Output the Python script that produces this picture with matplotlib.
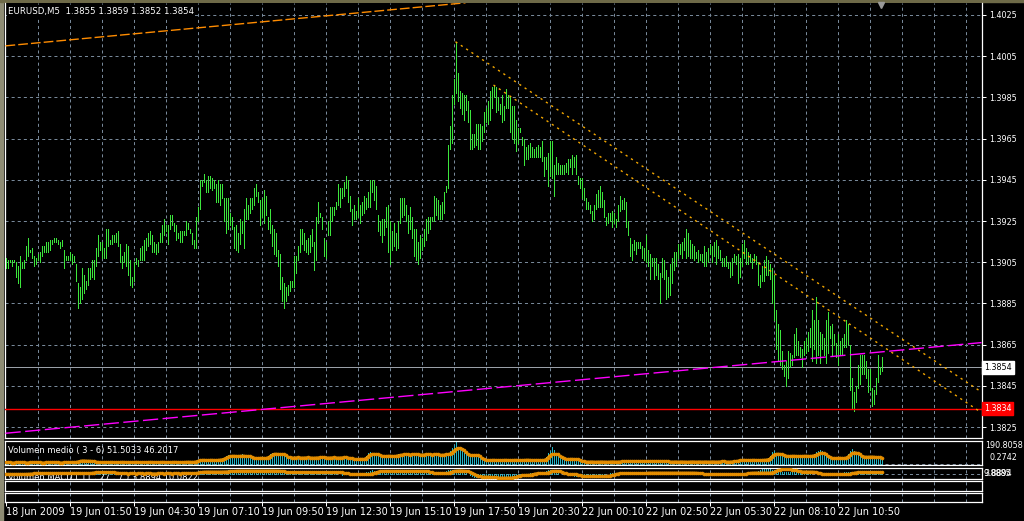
import matplotlib
matplotlib.use("Agg")
import numpy as np
import matplotlib.pyplot as plt
import matplotlib.transforms as mtransforms
from matplotlib.patches import Rectangle

# ---------------- data (EURUSD M5, one entry per bar) ----------------
bar_high = [
    1.3907, 1.3906, 1.3906, 1.3906, 1.3906, 1.3905, 1.3903, 1.3908, 1.3905, 1.3906,
    1.3913, 1.3917, 1.3911, 1.3912, 1.3908, 1.3907, 1.3909, 1.3910, 1.3913, 1.3913,
    1.3915, 1.3915, 1.3916, 1.3916, 1.3917, 1.3917, 1.3916, 1.3915, 1.3916, 1.3911,
    1.3908, 1.3908, 1.3910, 1.3909, 1.3908, 1.3904, 1.3895, 1.3893, 1.3902, 1.3899,
    1.3896, 1.3902, 1.3902, 1.3906, 1.3906, 1.3912, 1.3918, 1.3915, 1.3915, 1.3912,
    1.3921, 1.3921, 1.3916, 1.3918, 1.3918, 1.3919, 1.3920, 1.3914, 1.3908, 1.3910,
    1.3914, 1.3913, 1.3906, 1.3898, 1.3905, 1.3907, 1.3906, 1.3912, 1.3913, 1.3916,
    1.3917, 1.3919, 1.3920, 1.3918, 1.3915, 1.3914, 1.3915, 1.3919, 1.3923, 1.3926,
    1.3923, 1.3923, 1.3928, 1.3928, 1.3924, 1.3923, 1.3919, 1.3920, 1.3920, 1.3920,
    1.3925, 1.3924, 1.3921, 1.3919, 1.3916, 1.3927, 1.3932, 1.3945, 1.3945, 1.3948,
    1.3945, 1.3947, 1.3947, 1.3946, 1.3945, 1.3943, 1.3945, 1.3943,
    1.3943, 1.3936, 1.3936, 1.3936, 1.3929, 1.3927, 1.3922, 1.3923, 1.3919, 1.3926,
    1.3925, 1.3931, 1.3936, 1.3933, 1.3936, 1.3936, 1.3941, 1.3943, 1.3939, 1.3935,
    1.3936, 1.3940, 1.3937, 1.3927, 1.3931, 1.3923, 1.3921, 1.3919, 1.3911, 1.3909,
    1.3898, 1.3895, 1.3893, 1.3894, 1.3896, 1.3896, 1.3908, 1.3908, 1.3913, 1.3921,
    1.3921, 1.3919, 1.3916, 1.3917, 1.3918, 1.3921, 1.3915, 1.3927, 1.3934, 1.3929,
    1.3927, 1.3917, 1.3915, 1.3925, 1.3932, 1.3932, 1.3932, 1.3934, 1.3943, 1.3941,
    1.3941, 1.3944, 1.3947, 1.3945, 1.3937, 1.3931, 1.3933, 1.3930, 1.3936, 1.3933,
    1.3934, 1.3937, 1.3936, 1.3939, 1.3945, 1.3945, 1.3945, 1.3942, 1.3928, 1.3925,
    1.3926, 1.3926, 1.3932, 1.3933, 1.3925, 1.3920, 1.3924, 1.3919, 1.3925, 1.3936,
    1.3936, 1.3936, 1.3933, 1.3928, 1.3932, 1.3927, 1.3921, 1.3921, 1.3915, 1.3918,
    1.3917, 1.3921, 1.3926, 1.3927, 1.3927, 1.3927, 1.3937, 1.3936, 1.3935, 1.3933,
    1.3934, 1.3939, 1.3942,
    1.3962, 1.3971, 1.3986, 1.3994, 1.4012, 1.3997, 1.3988, 1.3987, 1.3986, 1.3986,
    1.3983, 1.3979, 1.3967, 1.3967, 1.3972, 1.3972, 1.3972, 1.3971, 1.3978, 1.3980,
    1.3983, 1.3988, 1.3990, 1.3991, 1.3990, 1.3985, 1.3982, 1.3986, 1.3981, 1.3989,
    1.3986, 1.3985, 1.3981, 1.3981, 1.3974, 1.3970, 1.3970, 1.3966, 1.3965, 1.3961,
    1.3962, 1.3963, 1.3961, 1.3960, 1.3961, 1.3962, 1.3961, 1.3964, 1.3956, 1.3956,
    1.3958, 1.3964, 1.3964, 1.3952, 1.3956, 1.3953, 1.3952, 1.3952, 1.3952, 1.3953,
    1.3955, 1.3955, 1.3957, 1.3956, 1.3957, 1.3947, 1.3946,
    1.3946, 1.3941, 1.3936, 1.3934, 1.3933, 1.3930, 1.3933, 1.3938, 1.3940, 1.3942,
    1.3939, 1.3935, 1.3927, 1.3929, 1.3929, 1.3930, 1.3929, 1.3926, 1.3933, 1.3937,
    1.3935, 1.3936, 1.3934, 1.3925, 1.3917, 1.3914, 1.3916, 1.3915, 1.3915, 1.3915,
    1.3913, 1.3912, 1.3918, 1.3911, 1.3909, 1.3907, 1.3907, 1.3907, 1.3904, 1.3900,
    1.3907, 1.3906, 1.3901, 1.3898, 1.3904, 1.3907, 1.3910, 1.3910, 1.3914, 1.3914,
    1.3915, 1.3917, 1.3921, 1.3919, 1.3916, 1.3914, 1.3913, 1.3910, 1.3911, 1.3909,
    1.3909, 1.3913, 1.3910, 1.3912, 1.3914, 1.3913, 1.3915, 1.3916, 1.3913, 1.3911,
    1.3907, 1.3907, 1.3908, 1.3905, 1.3905, 1.3907, 1.3909, 1.3908, 1.3909, 1.3907,
    1.3914, 1.3916, 1.3912, 1.3910, 1.3909, 1.3907, 1.3909, 1.3908, 1.3905, 1.3899,
    1.3903, 1.3906, 1.3908, 1.3906, 1.3904,
    1.3902, 1.3899, 1.3882, 1.3875, 1.3872, 1.3862, 1.3855, 1.3857, 1.3862, 1.3861,
    1.3860, 1.3870, 1.3873, 1.3867, 1.3864, 1.3863, 1.3867, 1.3868, 1.3871, 1.3873,
    1.3882, 1.3877, 1.3888, 1.3877, 1.3871, 1.3870, 1.3868, 1.3877, 1.3881, 1.3874,
    1.3875, 1.3870, 1.3866, 1.3870, 1.3867, 1.3868, 1.3870, 1.3877, 1.3875, 1.3865,
    1.3849, 1.3842, 1.3845, 1.3855, 1.3860, 1.3860, 1.3860, 1.3857, 1.3853, 1.3853,
    1.3844, 1.3843, 1.3849, 1.3860, 1.3854, 1.3859,
]
bar_low = [
    1.3902, 1.3902, 1.3905, 1.3903, 1.3905, 1.3898, 1.3895, 1.3893, 1.3902, 1.3902,
    1.3906, 1.3908, 1.3910, 1.3907, 1.3903, 1.3904, 1.3906, 1.3905, 1.3908, 1.3910,
    1.3910, 1.3910, 1.3911, 1.3914, 1.3915, 1.3915, 1.3914, 1.3912, 1.3913, 1.3902,
    1.3906, 1.3906, 1.3906, 1.3904, 1.3905, 1.3896, 1.3883, 1.3885, 1.3887, 1.3890,
    1.3892, 1.3894, 1.3897, 1.3898, 1.3897, 1.3903, 1.3908, 1.3911, 1.3907, 1.3907,
    1.3907, 1.3913, 1.3914, 1.3914, 1.3915, 1.3915, 1.3913, 1.3905, 1.3902, 1.3905,
    1.3903, 1.3899, 1.3894, 1.3893, 1.3896, 1.3904, 1.3903, 1.3906, 1.3906, 1.3906,
    1.3911, 1.3913, 1.3914, 1.3910, 1.3910, 1.3909, 1.3910, 1.3915, 1.3915, 1.3918,
    1.3920, 1.3914, 1.3921, 1.3923, 1.3920, 1.3916, 1.3917, 1.3915, 1.3915, 1.3918,
    1.3918, 1.3921, 1.3919, 1.3914, 1.3912, 1.3912, 1.3925, 1.3931, 1.3942, 1.3944,
    1.3939, 1.3939, 1.3941, 1.3940, 1.3941, 1.3934, 1.3934, 1.3933,
    1.3936, 1.3925, 1.3919, 1.3921, 1.3923, 1.3921, 1.3912, 1.3911, 1.3910, 1.3914,
    1.3919, 1.3912, 1.3926, 1.3926, 1.3929, 1.3931, 1.3933, 1.3937, 1.3934, 1.3923,
    1.3927, 1.3924, 1.3928, 1.3921, 1.3919, 1.3913, 1.3909, 1.3908, 1.3903, 1.3892,
    1.3886, 1.3883, 1.3886, 1.3889, 1.3891, 1.3893, 1.3893, 1.3900, 1.3906, 1.3910,
    1.3914, 1.3911, 1.3910, 1.3909, 1.3910, 1.3913, 1.3901, 1.3906, 1.3924, 1.3927,
    1.3921, 1.3908, 1.3907, 1.3918, 1.3918, 1.3925, 1.3928, 1.3931, 1.3933, 1.3932,
    1.3936, 1.3937, 1.3941, 1.3934, 1.3930, 1.3923, 1.3926, 1.3926, 1.3927, 1.3924,
    1.3928, 1.3929, 1.3931, 1.3932, 1.3932, 1.3939, 1.3935, 1.3931, 1.3920, 1.3918,
    1.3915, 1.3918, 1.3922, 1.3910, 1.3904, 1.3911, 1.3913, 1.3911, 1.3912, 1.3924,
    1.3927, 1.3928, 1.3925, 1.3919, 1.3921, 1.3917, 1.3908, 1.3906, 1.3904, 1.3907,
    1.3911, 1.3913, 1.3916, 1.3919, 1.3921, 1.3925, 1.3925, 1.3928, 1.3926, 1.3926,
    1.3926, 1.3929, 1.3939,
    1.3941, 1.3960, 1.3963, 1.3982, 1.3987, 1.3983, 1.3980, 1.3977, 1.3974, 1.3979,
    1.3973, 1.3960, 1.3960, 1.3961, 1.3962, 1.3960, 1.3960, 1.3964, 1.3968, 1.3973,
    1.3972, 1.3974, 1.3980, 1.3985, 1.3978, 1.3979, 1.3977, 1.3973, 1.3974, 1.3980,
    1.3980, 1.3968, 1.3965, 1.3963, 1.3959, 1.3963, 1.3968, 1.3962, 1.3952, 1.3955,
    1.3955, 1.3956, 1.3956, 1.3956, 1.3956, 1.3956, 1.3956, 1.3954, 1.3947, 1.3950,
    1.3942, 1.3947, 1.3946, 1.3937, 1.3948, 1.3948, 1.3948, 1.3948, 1.3948, 1.3949,
    1.3948, 1.3951, 1.3948, 1.3951, 1.3948, 1.3943, 1.3941,
    1.3936, 1.3935, 1.3931, 1.3931, 1.3929, 1.3925, 1.3926, 1.3931, 1.3932, 1.3932,
    1.3932, 1.3927, 1.3923, 1.3924, 1.3925, 1.3922, 1.3924, 1.3922, 1.3925, 1.3930,
    1.3931, 1.3931, 1.3922, 1.3918, 1.3908, 1.3906, 1.3911, 1.3909, 1.3912, 1.3912,
    1.3907, 1.3906, 1.3905, 1.3903, 1.3897, 1.3903, 1.3897, 1.3899, 1.3897, 1.3885,
    1.3898, 1.3897, 1.3887, 1.3888, 1.3889, 1.3895, 1.3901, 1.3903, 1.3907, 1.3909,
    1.3907, 1.3911, 1.3907, 1.3908, 1.3907, 1.3907, 1.3906, 1.3907, 1.3905, 1.3906,
    1.3905, 1.3903, 1.3903, 1.3905, 1.3909, 1.3905, 1.3908, 1.3904, 1.3907, 1.3906,
    1.3903, 1.3903, 1.3903, 1.3902, 1.3898, 1.3899, 1.3905, 1.3904, 1.3895, 1.3898,
    1.3903, 1.3907, 1.3904, 1.3904, 1.3905, 1.3902, 1.3905, 1.3904, 1.3894, 1.3893,
    1.3896, 1.3896, 1.3899, 1.3899, 1.3897,
    1.3885, 1.3877, 1.3863, 1.3857, 1.3855, 1.3853, 1.3850, 1.3845, 1.3849, 1.3854,
    1.3855, 1.3859, 1.3860, 1.3860, 1.3859, 1.3854, 1.3860, 1.3861, 1.3862, 1.3864,
    1.3857, 1.3863, 1.3856, 1.3860, 1.3856, 1.3863, 1.3860, 1.3856, 1.3861, 1.3868,
    1.3860, 1.3865, 1.3859, 1.3855, 1.3860, 1.3860, 1.3864, 1.3864, 1.3865, 1.3843,
    1.3834, 1.3833, 1.3837, 1.3844, 1.3846, 1.3851, 1.3851, 1.3849, 1.3842, 1.3843,
    1.3835, 1.3836, 1.3841, 1.3847, 1.3851, 1.3852,
]

# x axis labels, one every 32 bars
time_labels = ["18 Jun 2009", "19 Jun 01:50", "19 Jun 04:30", "19 Jun 07:10",
               "19 Jun 09:50", "19 Jun 12:30", "19 Jun 15:10", "19 Jun 17:50",
               "19 Jun 20:30", "22 Jun 00:10", "22 Jun 02:50", "22 Jun 05:30",
               "22 Jun 08:10", "22 Jun 10:50"]
price_ticks = [1.4025, 1.4005, 1.3985, 1.3965, 1.3945, 1.3925,
               1.3905, 1.3885, 1.3865, 1.3845, 1.3825]
bid_price = 1.3854
level_price = 1.3834

# trend lines: (bar index, price) anchors
orange_line = ([0, 230], [1.4010, 1.40309])
magenta_line = ([0, 488], [1.3822, 1.3866])
channel_upper = ([225, 488], [1.4012, 1.3842])
channel_lower = ([244, 488], [1.3991, 1.3832])

# volume (teal histogram) and its average (orange)
volume = [
    12, 7, 9, 6, 10, 8, 13, 9, 8, 11, 6, 9, 10, 8, 12, 9,
    8, 11, 7, 9, 10, 8, 12, 9, 8, 11, 10, 7, 9, 8, 13, 12,
    10, 12, 9, 16, 24, 28, 30, 22, 27, 21, 26, 19, 15, 14, 12, 11,
    14, 10, 13, 15, 11, 16, 12, 10, 14, 15, 13, 11, 14, 10, 13, 15,
    12, 16, 13, 11, 14, 10, 15, 12, 16, 13, 11, 14, 10, 15, 16, 12,
    11, 14, 10, 15, 16, 13, 12, 14, 10, 15, 16, 18, 13, 12, 17, 24,
    34, 36, 30, 28, 33, 27, 35, 30, 28, 34, 32, 38, 44, 52, 64, 72,
    70, 62, 75, 58, 70, 66, 82, 64, 60, 72, 55, 48, 44, 52, 46, 55,
    48, 42, 56, 70, 88, 96, 92, 80, 84, 76, 82, 66, 55, 50, 48, 56,
    58, 50, 55, 48, 52, 60, 56, 50, 48, 55, 53, 57, 50, 58, 54, 52,
    50, 55, 58, 49, 56, 50, 47, 55, 60, 52, 54, 48, 38, 36, 40, 42,
    38, 42, 44, 40, 70, 92, 100, 88, 82, 76, 70, 62, 66, 70, 64, 72,
    66, 60, 70, 72, 82, 86, 84, 78, 82, 76, 84, 80, 86, 78, 74, 82,
    76, 84, 80, 78, 86, 74, 82, 84, 76, 72, 80, 86, 90, 95, 110, 140,
    165, 188, 150, 130, 110, 96, 80, 72, 70, 76, 72, 78, 68, 56, 40, 34,
    30, 28, 34, 30, 32, 28, 30, 26, 34, 32, 30, 28, 33, 29, 32, 34,
    30, 28, 32, 34, 30, 36, 32, 28, 30, 34, 30, 28, 32, 36, 58, 90,
    110, 150, 120, 90, 70, 58, 42, 38, 44, 40, 38, 45, 42, 36, 34, 28,
    18, 14, 16, 18, 14, 17, 15, 13, 18, 16, 15, 17, 14, 16, 18, 15,
    19, 15, 17, 20, 22, 24, 19, 21, 18, 20, 22, 19, 21, 23, 18, 20,
    22, 19, 21, 18, 23, 20, 19, 22, 21, 18, 17, 16, 15, 18, 16, 15,
    17, 14, 18, 16, 15, 14, 18, 17, 15, 16, 18, 15, 17, 16, 15, 18,
    15, 18, 16, 17, 15, 18, 20, 17, 16, 15, 18, 19, 22, 26, 30, 34,
    30, 34, 28, 30, 33, 29, 34, 30, 28, 32, 34, 36, 38, 45, 70, 100,
    110, 95, 88, 80, 72, 66, 70, 64, 62, 70, 72, 64, 66, 62, 70, 68,
    72, 64, 66, 74, 82, 100, 115, 120, 108, 90, 70, 55, 48, 46, 52, 44,
    50, 54, 46, 48, 62, 85, 110, 130, 115, 100, 82, 64, 58, 62, 56, 60,
    62, 58, 64, 55, 52, 50, 46,
]
volume_avg = [
    10, 9, 9, 8, 8, 9, 10, 10, 9, 9, 8, 8, 9, 9, 10, 10,
    9, 9, 8, 8, 9, 9, 10, 10, 9, 9, 9, 8, 8, 9, 10, 11,
    11, 10, 10, 12, 16, 21, 25, 26, 25, 24, 24, 23, 20, 17, 14, 13,
    13, 12, 12, 13, 13, 14, 13, 12, 12, 13, 14, 14, 13, 12, 12, 13,
    13, 14, 14, 13, 12, 12, 13, 13, 14, 14, 13, 13, 12, 13, 14, 14,
    13, 12, 12, 13, 14, 14, 13, 13, 12, 13, 14, 15, 15, 14, 14, 16,
    22, 28, 31, 32, 31, 30, 31, 32, 31, 30, 31, 33, 35, 40, 48, 58,
    64, 67, 68, 67, 66, 67, 68, 69, 67, 66, 64, 60, 52, 49, 48, 49,
    50, 49, 48, 52, 62, 75, 84, 86, 85, 84, 83, 80, 72, 62, 56, 53,
    52, 53, 54, 53, 52, 52, 53, 54, 53, 52, 51, 52, 53, 54, 55, 54,
    53, 52, 52, 53, 54, 53, 52, 52, 53, 54, 54, 53, 50, 46, 42, 40,
    39, 40, 41, 40, 44, 60, 78, 84, 85, 84, 80, 74, 68, 67, 66, 67,
    68, 67, 66, 67, 70, 74, 78, 80, 81, 80, 79, 80, 81, 82, 80, 79,
    78, 79, 80, 81, 80, 79, 80, 81, 80, 78, 77, 78, 80, 82, 86, 96,
    112, 128, 135, 137, 133, 120, 100, 86, 78, 75, 74, 75, 73, 66, 52, 40,
    34, 31, 30, 31, 32, 31, 30, 29, 30, 31, 32, 31, 30, 30, 31, 32,
    31, 30, 30, 31, 32, 33, 32, 31, 30, 31, 31, 30, 30, 31, 35, 50,
    70, 82, 85, 84, 80, 70, 55, 45, 41, 40, 40, 41, 40, 39, 38, 33,
    26, 20, 17, 16, 16, 17, 16, 15, 16, 16, 17, 16, 16, 15, 16, 17,
    17, 16, 16, 17, 18, 20, 21, 20, 20, 19, 20, 21, 20, 20, 19, 20,
    20, 21, 20, 20, 21, 20, 20, 21, 20, 20, 19, 18, 17, 16, 16, 17,
    16, 16, 17, 16, 16, 15, 16, 17, 17, 16, 16, 17, 16, 16, 17, 16,
    16, 17, 17, 16, 16, 17, 18, 18, 17, 16, 16, 17, 18, 20, 24, 28,
    31, 32, 31, 30, 30, 31, 32, 31, 30, 30, 31, 32, 33, 35, 42, 60,
    78, 84, 86, 85, 82, 76, 70, 67, 66, 67, 68, 67, 66, 65, 66, 67,
    68, 67, 66, 67, 70, 76, 84, 92, 95, 93, 82, 66, 55, 50, 49, 48,
    49, 50, 49, 48, 50, 58, 75, 90, 96, 97, 92, 80, 66, 61, 60, 59,
    60, 61, 60, 58, 56, 54, 52,
]

# volume MACD: histogram (teal) and signal (orange)
macd_hist = [
    0.3, -0.2, 0.1, -0.3, 0.2, 0.4, 0.1, -0.1, 0.2, 0.5, 0.9, 1.4, 1.8, 2.0, 1.7, 1.5,
    1.8, 1.4, 1.9, 1.5, 1.3, 2.0, 1.6, 1.4, 1.8, 1.9, 1.5, 1.3, 1.7, 1.8, 1.6, 1.4,
    1.5, 1.8, 2.2, 2.6, 2.4, 2.0, 1.6, 1.5, 2.0, 3.0, 4.2, 4.8, 4.6, 4.3, 4.0, 4.4,
    3.8, 4.2, 4.1, 3.6, 3.2, 2.6, 1.8, 1.2, 0.9, 1.0, 1.3, 1.1, 0.9, 1.4, 1.2, 1.0,
    1.3, 1.5, 1.0, 0.9, 1.4, 1.2, 1.0, 1.5, 1.3, 0.9, 1.1, 1.4, 1.0, 1.2, 1.5, 1.1,
    0.9, 1.4, 1.3, 1.0, 1.6, 1.2, 0.9, 1.3, 1.5, 1.6, 1.2, 1.1, 1.8, 2.6, 3.8, 5.0,
    5.8, 6.2, 6.0, 5.6, 5.2, 5.8, 5.4, 5.0, 5.6, 5.9, 5.5, 5.8, 6.4, 7.2, 8.0, 8.4,
    8.2, 8.0, 8.3, 7.6, 7.9, 8.1, 7.4, 7.8, 8.2, 7.6, 7.2, 7.5, 7.9, 8.2, 8.4, 8.0,
    7.6, 7.8, 8.2, 8.4, 8.0, 7.5, 7.0, 6.0, 4.8, 4.0, 3.6, 3.9, 4.2, 4.1, 3.8, 4.0,
    4.2, 3.9, 3.7, 4.1, 4.3, 4.0, 3.8, 4.2, 4.1, 3.7, 3.9, 4.2, 4.0, 3.8, 4.1, 3.9,
    4.1, 3.6, 3.8, 3.4, 2.6, 1.6, 0.4, -0.6, -1.2, -1.0, -0.8, -0.9, -0.6, -0.8, -1.0, -0.7,
    -0.5, -0.9, -0.4, 1.2, 3.6, 5.8, 7.4, 8.2, 8.0, 7.6, 7.2, 7.4, 7.0, 6.8, 7.3, 7.1,
    6.8, 7.2, 7.4, 6.9, 7.1, 6.7, 7.2, 7.0, 7.3, 6.8, 7.1, 7.2, 6.9, 6.6, 6.2, 5.4,
    4.2, 3.0, 2.0, 1.4, 1.2, 1.5, 1.8, 1.6, 1.4, 1.7, 2.6, 4.0, 6.0, 8.4, 9.6, 9.8,
    10.2, 9.6, 9.0, 8.2, 7.0, 5.4, 3.0, 0.4, -2.6, -5.0, -6.6, -7.4, -7.0, -6.6, -6.8, -7.2,
    -7.8, -8.4, -8.8, -9.0, -9.2, -8.8, -8.6, -9.0, -8.7, -8.4, -8.0, -7.2, -5.8, -4.0, -2.8, -2.2,
    -2.0, -2.4, -2.1, -1.8, -1.2, 0.2, 1.2, 1.8, 1.6, 1.5, 1.8, 1.7, 2.6, 4.8, 7.0, 8.4,
    8.8, 8.2, 7.0, 5.2, 3.0, 0.8, -0.6, -1.0, -0.8, -0.9, -1.2, -2.2, -3.6, -4.6, -5.0, -5.2,
    -5.0, -4.8, -4.9, -5.1, -4.6, -4.8, -5.0, -4.7, -4.4, -4.0, -3.2, -1.8, -0.2, 1.0, 1.6, 1.8,
    1.7, 1.5, 1.8, 1.6, 1.4, 1.7, 1.9, 1.6, 1.5, 1.8, 1.7, 1.4, 1.9, 2.4, 2.8, 3.1,
    3.2, 3.0, 2.8, 3.2, 3.1, 2.9, 3.3, 3.0, 2.8, 3.1, 3.2, 3.0, 2.9, 3.1, 3.2, 2.8,
    3.0, 3.1, 2.6, 1.8, 0.8, -0.2, -0.8, -0.9, -0.6, -0.8, -0.7, -0.5, -0.9, -0.8, -0.6, -0.7,
    -0.8, -0.9, -0.6, -0.5, -0.8, -0.7, -0.6, -0.9, -0.4, 0.4, 1.6, 2.6, 3.1, 3.0, 2.8, 3.2,
    3.1, 2.9, 3.0, 3.2, 2.8, 3.0, 3.4, 4.8, 7.2, 9.6, 11.2, 12.0, 12.2, 11.6, 11.0, 10.4,
    9.6, 8.6, 7.4, 6.4, 5.8, 5.4, 5.2, 5.5, 5.6, 5.3, 5.1, 5.4, 5.6, 5.2, 5.0, 5.3,
    4.8, 3.6, 2.0, 0.6, -0.4, -0.9, -1.0, -0.7, -0.8, -0.6, -0.9, -0.7, -0.5, -0.8, -0.9, -0.6,
    -0.4, 0.8, 2.4, 3.6, 4.2, 4.4, 4.0, 4.2, 4.5, 4.1, 3.8, 4.0, 4.2, 3.9, 4.1, 4.0,
    3.9, 4.1, 3.8, 3.6, 3.9, 4.0, 3.9,
]
macd_signal = [
    0.2, 0.1, 0.0, -0.1, 0.0, 0.1, 0.2, 0.1, 0.0, 0.0, 0.1, 0.3, 0.6, 1.0, 1.3, 1.5,
    1.6, 1.6, 1.7, 1.6, 1.5, 1.6, 1.7, 1.6, 1.5, 1.6, 1.7, 1.6, 1.6, 1.5, 1.6, 1.7,
    1.6, 1.5, 1.6, 1.7, 1.6, 1.8, 2.1, 2.0, 1.8, 1.7, 1.9, 2.5, 3.2, 3.8, 4.0, 4.1,
    4.0, 3.9, 4.0, 4.1, 4.0, 3.9, 3.8, 3.4, 2.8, 2.2, 1.6, 1.3, 1.2, 1.1, 1.2, 1.3,
    1.2, 1.1, 1.2, 1.3, 1.2, 1.1, 1.2, 1.3, 1.2, 1.1, 1.0, 1.1, 1.2, 1.3, 1.2, 1.1,
    1.2, 1.3, 1.2, 1.1, 1.2, 1.3, 1.2, 1.1, 1.2, 1.3, 1.4, 1.3, 1.2, 1.3, 1.5, 2.0,
    2.8, 3.8, 4.6, 5.2, 5.4, 5.5, 5.4, 5.3, 5.4, 5.5, 5.4, 5.3, 5.4, 5.5, 5.6, 5.8,
    6.2, 6.6, 7.0, 7.4, 7.6, 7.7, 7.8, 7.7, 7.6, 7.7, 7.8, 7.7, 7.6, 7.5, 7.6, 7.7,
    7.8, 7.7, 7.6, 7.7, 7.8, 7.9, 7.8, 7.7, 7.6, 7.4, 7.0, 6.2, 5.2, 4.5, 4.1, 4.0,
    3.9, 4.0, 4.1, 4.0, 3.9, 4.0, 4.1, 4.0, 3.9, 4.0, 4.1, 4.0, 3.9, 4.0, 4.1, 4.0,
    3.9, 4.0, 4.1, 4.0, 3.9, 3.8, 3.9, 4.0, 3.6, 3.0, 2.2, 1.2, 0.2, -0.4, -0.7, -0.8,
    -0.7, -0.6, -0.7, -0.8, -0.7, -0.5, 0.0, 0.8, 2.0, 3.5, 5.0, 6.2, 6.8, 7.0, 7.1, 7.0,
    6.9, 7.0, 7.1, 7.0, 6.9, 7.0, 7.1, 7.0, 6.9, 7.0, 7.1, 7.0, 6.9, 7.0, 7.1, 7.0,
    6.9, 7.0, 6.8, 6.2, 5.0, 3.6, 2.4, 1.8, 1.6, 1.5, 1.6, 1.7, 1.6, 2.2, 3.5, 5.2,
    6.6, 7.4, 7.8, 8.0, 7.8, 7.6, 7.2, 6.4, 5.0, 3.2, 1.0, -1.5, -3.6, -5.0, -5.9, -6.3,
    -6.4, -6.3, -6.5, -7.0, -7.6, -8.1, -8.5, -8.6, -8.7, -8.6, -8.6, -8.7, -8.6, -8.4, -7.9, -7.0,
    -5.8, -4.4, -3.2, -2.5, -2.3, -2.2, -2.0, -1.2, 0.0, 1.0, 1.5, 1.6, 1.7, 1.6, 1.8, 3.0,
    4.8, 6.3, 7.0, 7.2, 7.0, 6.3, 5.0, 3.2, 1.4, 0.2, -0.5, -0.7, -0.8, -0.9, -1.4, -2.4,
    -3.5, -4.3, -4.7, -4.8, -4.7, -4.6, -4.7, -4.8, -4.7, -4.6, -4.7, -4.8, -4.7, -4.5, -4.0, -3.0,
    -1.8, -0.4, 0.8, 1.4, 1.6, 1.7, 1.6, 1.5, 1.6, 1.7, 1.6, 1.5, 1.6, 1.7, 1.6, 1.8,
    2.2, 2.7, 3.0, 3.1, 3.0, 2.9, 3.0, 3.1, 3.0, 2.9, 3.0, 3.1, 3.0, 2.9, 3.0, 3.1,
    3.0, 2.9, 3.0, 3.1, 3.0, 2.9, 3.0, 3.1, 3.0, 2.9, 2.6, 2.0, 1.2, 0.3, -0.4, -0.7,
    -0.8, -0.7, -0.6, -0.7, -0.8, -0.7, -0.6, -0.7, -0.8, -0.7, -0.6, -0.7, -0.8, -0.7, -0.6, -0.7,
    -0.6, -0.4, 0.2, 1.2, 2.2, 2.8, 3.0, 3.1, 3.0, 2.9, 3.0, 3.1, 3.0, 2.9, 3.0, 3.4,
    4.5, 6.4, 8.4, 10.0, 10.8, 11.0, 11.1, 10.9, 10.6, 10.2, 9.4, 8.2, 7.0, 6.0, 5.5, 5.4,
    5.3, 5.4, 5.5, 5.4, 5.2, 4.6, 3.4, 2.0, 0.8, 0.0, -0.5, -0.7, -0.8, -0.7, -0.6, -0.7,
    -0.8, -0.7, -0.6, -0.7, -0.6, -0.4, 0.2, 1.2, 2.4, 3.4, 3.9, 4.1, 4.0, 3.9, 4.0, 4.1,
    4.0, 3.9, 3.8, 3.9, 3.9, 3.9, 3.9,
]

# ---------------- style ----------------
W, H = 1024, 521
GRID = "#778899"
BAR = "#3ce63c"
TEAL = "#22b4c4"
ORANGE = "#ffa500"
plt.rcParams["lines.scale_dashes"] = False
plt.rcParams["font.family"] = "DejaVu Sans"

fig = plt.figure(figsize=(W / 100, H / 100), dpi=100, facecolor="black")
XMAX = 488.25


def panel(x0, y0, x1, y1):
    ax = fig.add_axes([x0 / W, 1 - y1 / H, (x1 - x0) / W, (y1 - y0) / H])
    ax.set_facecolor("black")
    for s in ax.spines.values():
        s.set_color("white")
        s.set_linewidth(0.9)
    ax.set_xlim(-0.25, XMAX)
    ax.tick_params(left=False, bottom=False, labelleft=False, labelbottom=False)
    for gx in range(16, 489, 16):
        ax.axvline(gx, color=GRID, lw=0.72, ls=(0, (2.2, 2.2)), zorder=0)
    return ax


# window border strips
fig.patches.append(Rectangle((0, 0), 3 / W, 1, transform=fig.transFigure,
                             color="#8e8c74", zorder=-1))
fig.patches.append(Rectangle((0, 1 - 2 / H), 1, 2 / H, transform=fig.transFigure,
                             color="#6e6a48", zorder=-1))

# ---------------- main price panel ----------------
ax = panel(5, 3, 982, 438)
ax.spines["top"].set_visible(False)
ax.set_ylim(1.38197, 1.40308)
for p in price_ticks:
    ax.axhline(p, color=GRID, lw=0.72, ls=(0, (2.2, 2.2)), zorder=0)

idx = np.arange(len(bar_high))
ax.vlines(idx, bar_low, bar_high, color=BAR, lw=0.72, antialiased=False, zorder=3)

ax.axhline(bid_price, color="#9aa0a8", lw=0.72, zorder=2)
ax.axhline(level_price, color="#ff0000", lw=1.0, zorder=4)
ax.plot(*orange_line, color="#ff8c00", lw=1.0, ls=(0, (7, 2.2)), zorder=4)
ax.plot(*magenta_line, color="#ff00ff", lw=1.0, ls=(0, (11, 3.2)), zorder=4)
ax.plot(*channel_upper, color="#f5a800", lw=1.0, ls=(0, (1.6, 3.0)), zorder=4)
ax.plot(*channel_lower, color="#f5a800", lw=1.0, ls=(0, (1.6, 3.0)), zorder=4)
ax.plot([437.75], [1.40298], marker="v", ms=5, color="#9a9a9a",
        clip_on=False, zorder=6)

ax.yaxis.tick_right()
ax.set_yticks(price_ticks)
ax.set_yticklabels([f"{p:.4f}" for p in price_ticks])
ax.tick_params(axis="y", right=True, labelright=True, colors="white",
               length=3, width=0.72, labelsize=5.8, pad=2)

trans = mtransforms.blended_transform_factory(ax.transAxes, ax.transData)
ax.text(1.002, bid_price, "1.3854", transform=trans, va="center", ha="left",
        fontsize=5.8, color="black", zorder=7, clip_on=False,
        bbox=dict(boxstyle="square,pad=0.25", fc="white", ec="white"))
ax.text(1.002, level_price, "1.3834", transform=trans, va="center", ha="left",
        fontsize=5.8, color="white", zorder=7, clip_on=False,
        bbox=dict(boxstyle="square,pad=0.25", fc="#ff0000", ec="#ff0000"))

fig.text(8 / W, 1 - 11.5 / H, "EURUSD,M5  1.3855 1.3859 1.3852 1.3854",
         color="white", fontsize=6.2, va="center", ha="left", zorder=8,
         bbox=dict(boxstyle="square,pad=0.1", fc="black", ec="none"))

# ---------------- volume panel ----------------
axv = panel(5, 441, 982, 465)
axv.set_ylim(-13.3, 199.7)
axv.axhline(0, color=GRID, lw=0.72, ls=(0, (2.2, 2.2)), zorder=0)
axv.vlines(np.arange(len(volume)), 0, volume, color=TEAL, lw=0.72,
           antialiased=False, zorder=2)
axv.plot(np.arange(len(volume_avg)), volume_avg, color=ORANGE, lw=1.5,
         marker="o", ms=1.6, mec="#e08a00", mfc=ORANGE, zorder=3)
fig.text(8 / W, 1 - 451 / H, "Volumen medio ( 3 - 6) 51.5033 46.2017",
         color="white", fontsize=6, va="center", ha="left", zorder=8)
fig.text(985 / W, 1 - 446 / H, "190.8058", color="white", fontsize=5.8,
         va="center", ha="left")
fig.text(989 / W, 1 - 458 / H, "0.2742", color="white", fontsize=5.8,
         va="center", ha="left")

# ---------------- volume MACD panel ----------------
axm = panel(5, 468, 982, 479)
axm.set_ylim(-11.65, 14)
axm.axhline(0, color=GRID, lw=0.72, ls=(0, (2.2, 2.2)), zorder=0)
axm.text(0.003, 0.55, "Volumen MACD ( 11 , 27 , 7 ) 3.8894 10.0822",
         transform=axm.transAxes, color="white", fontsize=6, va="top",
         ha="left", clip_on=True, zorder=1)
axm.vlines(np.arange(len(macd_hist)), 0, macd_hist, color=TEAL, lw=0.72,
           antialiased=False, zorder=2)
axm.plot(np.arange(len(macd_signal)), macd_signal, color=ORANGE, lw=1.5,
         marker="o", ms=1.6, mec="#e08a00", mfc=ORANGE, zorder=3)
fig.text(984 / W, 1 - 473.5 / H, "9.8885", color="white", fontsize=5.8,
         va="center", ha="left")
fig.text(984 / W, 1 - 473.5 / H, "3.8894", color="white", fontsize=5.8,
         va="center", ha="left")

# ---------------- two empty panels + time axis ----------------
panel(5, 481, 982, 491)
axb = panel(5, 493, 982, 502)
axb.set_xticks(np.arange(len(time_labels)) * 32)
axb.set_xticklabels(time_labels)
axb.tick_params(axis="x", bottom=True, labelbottom=True, colors="white",
                length=3, width=0.72, labelsize=7, pad=0.8)
for lbl in axb.get_xticklabels():
    lbl.set_ha("left")

fig.savefig("out.png", dpi=100, facecolor="black")
